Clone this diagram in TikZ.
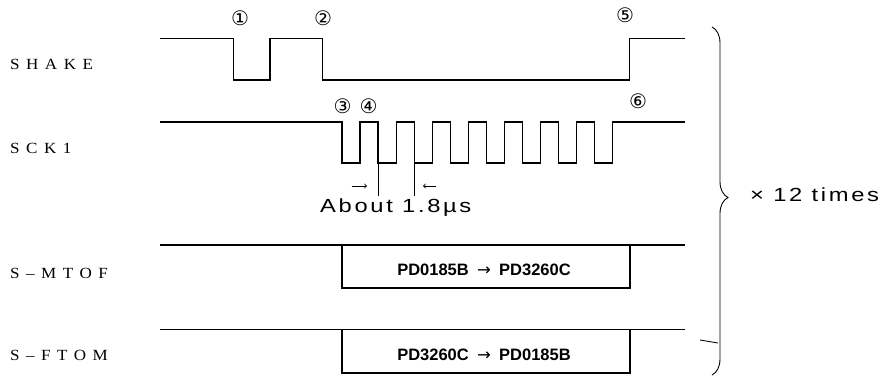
\documentclass[tikz,border=0pt]{standalone}
\usepackage{fontspec}
\newfontfamily\numfont{DejaVu Sans}
\newfontfamily\sigfont[LetterSpace=42,FakeStretch=1.1]{Liberation Serif}
\newfontfamily\notefont[LetterSpace=14,FakeStretch=1.25]{Liberation Sans}
\newfontfamily\datafont{Liberation Sans}
\usetikzlibrary{decorations.pathreplacing}

\begin{document}
\begin{tikzpicture}[x=1pt,y=-1pt,
		wave/.style={line width=1.3pt,line join=miter},
		thin line/.style={line width=0.9pt},
		sig label/.style={anchor=west,inner sep=0pt,font={\sigfont\fontsize{15.5}{17}\selectfont}},
		step num/.style={inner sep=0pt,font={\numfont\fontsize{20}{21}\selectfont}},
		note/.style={anchor=west,inner sep=0pt,font={\notefont\fontsize{19}{21}\selectfont}},
		data/.style={inner sep=0pt,font={\datafont\bfseries\fontsize{16.5}{18}\selectfont}}]
	\useasboundingbox (0,0) rectangle (887,377);

	% signal names
	\node[sig label] (shake) at (10,64) {SHAKE};
	\node[sig label] (sck) at (10,148) {SCK1};
	\node[sig label] (mtof) at (10,273) {S–MTOF};
	\node[sig label] (ftom) at (10,355) {S–FTOM};

	% SHAKE
	\draw[wave] (160,38.5) -- (233.5,38.5) -- (233.5,80) -- (270,80) -- (270,38.5)
		-- (322.7,38.5) -- (322.7,80) -- (629.5,80) -- (629.5,38.5) -- (685,38.5);

	% SCK1
	\draw[wave] (160,122) -- (342,122)
		\foreach \k in {1,...,8} { -- ++(0,41) -- ++(18.1,0) -- ++(0,-41) -- ++(18,0) }
		-- (685,122);
	\draw[thin line] (378.5,163) -- (378.5,196);
	\draw[thin line] (414.2,163) -- (414.2,196);
	\coordinate (r1) at (351.5,186);
	\coordinate (r2) at (367,186);
	\coordinate (l1) at (435.5,186);
	\coordinate (l2) at (423,186);
	\draw[thin line,->] (r1) -- (r2);
	\draw[thin line,->] (l1) -- (l2);
	\node[note] (period) at (320,208) {About 1.8µs};

	% S-MTOF / S-FTOM
	\draw[wave] (160,245) -- (685,245);
	\draw[wave] (342,245) -- (342,288) -- (630,288) -- (630,245);
	\node[data] (mtofdata) at (484,270) {PD0185B\enspace{\numfont\mdseries→}\enspace PD3260C};
	\draw[wave] (160,329.5) -- (685,329.5);
	\draw[wave] (342,329.5) -- (342,373) -- (630,373) -- (630,329.5);
	\node[data] (ftomdata) at (484,355) {PD3260C\enspace{\numfont\mdseries→}\enspace PD0185B};

	% step marks
	\node[step num] (n1) at (240,18) {①};
	\node[step num] (n2) at (323,18) {②};
	\node[step num] (n3) at (342.5,106) {③};
	\node[step num] (n4) at (368.5,106) {④};
	\node[step num] (n5) at (625,15) {⑤};
	\node[step num] (n6) at (638,101) {⑥};

	% repeat brace
	\draw[thin line,decorate,decoration={brace,amplitude=16pt,aspect=0.49}] (712,27) -- (712,375);
	\draw[thin line] (700,340) -- (718,343);
	\node[note] (times) at (750,194.5) {× 12 times};
\end{tikzpicture}
\end{document}
